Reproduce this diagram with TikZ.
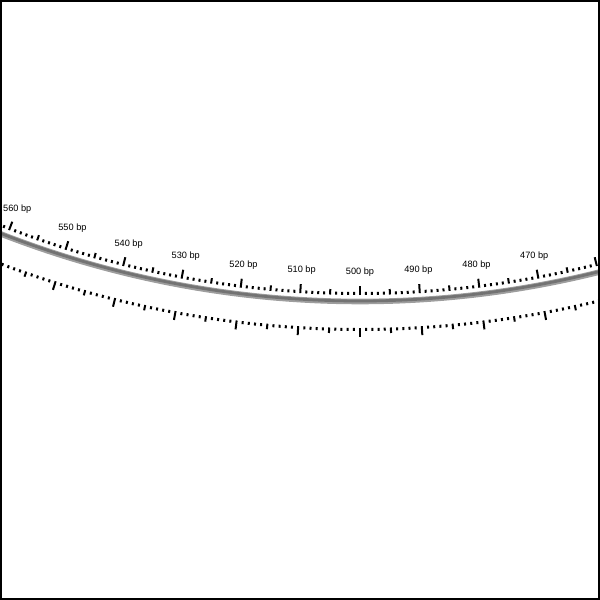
\documentclass[tikz,border=0pt]{standalone}
\usepackage{fontspec}
\setmainfont{Liberation Sans}
\usepackage{tikz}
\usetikzlibrary{calc}

\begin{document}
\begin{tikzpicture}[x=0.5pt, y=0.5pt,
    tick/.style={line width=1pt, black},
    backbone/.style={line width=2.8pt, black!38},
    backbonecore/.style={line width=1.4pt, black!55},
    bplabel/.style={inner sep=0pt, font=\fontsize{4.6}{5}\selectfont}]
  \useasboundingbox (0,-600) rectangle (600,0);
  \coordinate (c) at (360,687);
  \begin{scope}
    \clip (1,-599) rectangle (599,-1);
    % backbone
    \draw[backbone] (c) ++(-114:988.5) arc[start angle=-114, end angle=-72, radius=988.5];
    \draw[backbonecore] (c) ++(-114:988) arc[start angle=-114, end angle=-72, radius=988];
    % ticks, inner and outer ring
    \foreach \b in {455,...,565}{
      \pgfmathsetmacro\a{-90-(\b-500)*0.349}
      \pgfmathsetmacro\len{ifthenelse(mod(\b,10)==0,9,ifthenelse(mod(\b,5)==0,5.5,3))}
      \pgfmathsetmacro\ri{982-\len}
      \pgfmathsetmacro\ro{1015+\len}
      \draw[tick] ($(c)+(\a:982)$) -- ($(c)+(\a:\ri)$);
      \draw[tick] ($(c)+(\a:1015)$) -- ($(c)+(\a:\ro)$);
    }
    % labels
    \foreach \b in {470,480,...,560}{
      \pgfmathsetmacro\a{-90-(\b-500)*0.349}
      \node[bplabel] (l\b) at ($(c)+(\a:959)$) {\b\ bp};
    }
  \end{scope}
  \draw[line width=1pt] (1,-1) rectangle (599,-599);
\end{tikzpicture}
\end{document}
